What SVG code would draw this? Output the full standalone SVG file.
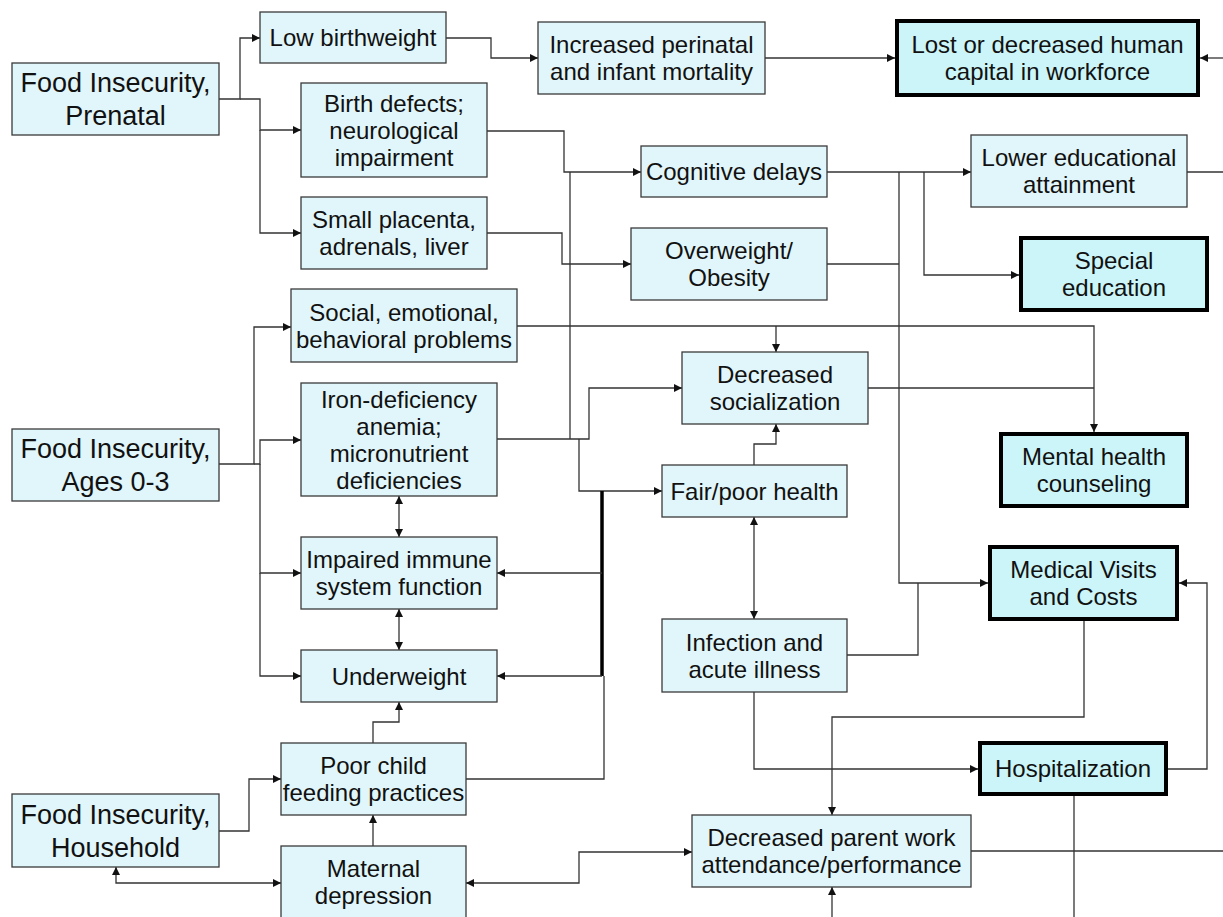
<svg xmlns="http://www.w3.org/2000/svg" width="1223" height="917" viewBox="0 0 1223 917">
<style>
.b{fill:#e1f6fa;stroke:#3a3a3a;stroke-width:1.3}
.k{fill:#ccf5f9;stroke:#000;stroke-width:4}
text{font-family:"Liberation Sans",Arial,sans-serif;font-size:24px;fill:#111;text-anchor:middle}
.f{font-size:27px}
#connectors path{fill:none;stroke:#333;stroke-width:1.3}
</style>
<defs>
<marker id="a" viewBox="0 0 10 10" refX="10" refY="5" markerUnits="userSpaceOnUse" markerWidth="9" markerHeight="8" orient="auto-start-reverse"><path d="M0,0 L10,5 L0,10 z" fill="#111"/></marker>
</defs>
<rect width="1223" height="917" fill="#fff"/>
<g id="connectors">
<path d="M219,99 H240 V38 H260" marker-end="url(#a)"/>
<path d="M240,99 H260 V130 H301" marker-end="url(#a)"/>
<path d="M260,130 V233 H301" marker-end="url(#a)"/>
<path d="M446,38 H491 V58 H538" marker-end="url(#a)"/>
<path d="M765,58 H895" marker-end="url(#a)"/>
<path d="M1223,58 H1200" marker-end="url(#a)"/>
<path d="M487,131 H564 V172 H641" marker-end="url(#a)"/>
<path d="M497,439 H589 V388 H682" marker-end="url(#a)"/>
<path d="M570,439 V172"/>
<path d="M579,439 V491 H662" marker-end="url(#a)"/>
<path d="M487,233 H562 V264 H631" marker-end="url(#a)"/>
<path d="M827,172 H971" marker-end="url(#a)"/>
<path d="M924,172 V275 H1019" marker-end="url(#a)"/>
<path d="M899,172 V583 H988" marker-end="url(#a)"/>
<path d="M827,264 H899"/>
<path d="M847,655 H918 V583"/>
<path d="M1187,172 H1223"/>
<path d="M517,326 H1094 V432" marker-end="url(#a)"/>
<path d="M776,326 V352" marker-end="url(#a)"/>
<path d="M868,388 H1094"/>
<path d="M754,465 V444 H776 V424" marker-end="url(#a)"/>
<path d="M754,517 V619" marker-start="url(#a)" marker-end="url(#a)"/>
<path d="M602,491 V676" style="stroke-width:3.5;stroke:#000"/>
<path d="M602,573 H497" marker-end="url(#a)"/>
<path d="M602,676 H497" marker-end="url(#a)"/>
<path d="M604,676 V779 H466"/>
<path d="M219,464 H254 V327 H291" marker-end="url(#a)"/>
<path d="M254,464 H260 V440 H301" marker-end="url(#a)"/>
<path d="M260,464 V573 H301" marker-end="url(#a)"/>
<path d="M260,573 V676 H301" marker-end="url(#a)"/>
<path d="M399,496 V537" marker-start="url(#a)" marker-end="url(#a)"/>
<path d="M399,609 V650" marker-start="url(#a)" marker-end="url(#a)"/>
<path d="M373,743 V722 H399 V702" marker-end="url(#a)"/>
<path d="M373,846 V815" marker-end="url(#a)"/>
<path d="M219,831 H249 V779 H281" marker-end="url(#a)"/>
<path d="M116,867 V883 H281" marker-start="url(#a)" marker-end="url(#a)"/>
<path d="M466,883 H579 V852 H692" marker-start="url(#a)" marker-end="url(#a)"/>
<path d="M1084,621 V717 H832 V815" marker-end="url(#a)"/>
<path d="M754,692 V769 H978" marker-end="url(#a)"/>
<path d="M1168,769 H1207 V583 H1179" marker-end="url(#a)"/>
<path d="M1074,796 V917"/>
<path d="M971,851 H1223"/>
<path d="M832,917 V887" marker-end="url(#a)"/>
</g>
<g id="n1"><rect class="b" x="12" y="63" width="207" height="72"/><text class="f" x="115.5" y="92">Food Insecurity,</text><text class="f" x="115.5" y="125">Prenatal</text></g>
<g id="n2"><rect class="b" x="260" y="12" width="186" height="51"/><text x="353" y="46">Low birthweight</text></g>
<g id="n3"><rect class="b" x="301" y="83" width="186" height="94"/><text x="394" y="111.5">Birth defects;</text><text x="394" y="138.5">neurological</text><text x="394" y="165.5">impairment</text></g>
<g id="n4"><rect class="b" x="301" y="197" width="186" height="72"/><text x="394" y="228">Small placenta,</text><text x="394" y="255">adrenals, liver</text></g>
<g id="n5"><rect class="b" x="291" y="289" width="226" height="73"/><text x="404" y="320.5">Social, emotional,</text><text x="404" y="347.5">behavioral problems</text></g>
<g id="n6"><rect class="b" x="301" y="383" width="196" height="113"/><text x="399" y="407.5">Iron-deficiency</text><text x="399" y="434.5">anemia;</text><text x="399" y="461.5">micronutrient</text><text x="399" y="488.5">deficiencies</text></g>
<g id="n7"><rect class="b" x="301" y="537" width="196" height="72"/><text x="399" y="568">Impaired immune</text><text x="399" y="595">system function</text></g>
<g id="n8"><rect class="b" x="301" y="650" width="196" height="52"/><text x="399" y="684.5">Underweight</text></g>
<g id="n9"><rect class="b" x="281" y="743" width="185" height="72"/><text x="373.5" y="774">Poor child</text><text x="373.5" y="801">feeding practices</text></g>
<g id="n10"><rect class="b" x="12" y="794" width="207" height="73"/><text class="f" x="115.5" y="824">Food Insecurity,</text><text class="f" x="115.5" y="857">Household</text></g>
<g id="n11"><rect class="b" x="281" y="846" width="185" height="74"/><text x="373.5" y="877">Maternal</text><text x="373.5" y="904">depression</text></g>
<g id="n12"><rect class="b" x="12" y="429" width="207" height="72"/><text class="f" x="115.5" y="458">Food Insecurity,</text><text class="f" x="115.5" y="491">Ages 0-3</text></g>
<g id="n13"><rect class="b" x="538" y="22" width="227" height="72"/><text x="651.5" y="53">Increased perinatal</text><text x="651.5" y="80">and infant mortality</text></g>
<g id="n14"><rect class="k" x="897" y="21" width="301" height="74"/><text x="1047.5" y="53">Lost or decreased human</text><text x="1047.5" y="80">capital in workforce</text></g>
<g id="n15"><rect class="b" x="641" y="146" width="186" height="51"/><text x="734" y="180">Cognitive delays</text></g>
<g id="n16"><rect class="b" x="631" y="228" width="196" height="72"/><text x="729" y="259">Overweight/</text><text x="729" y="286">Obesity</text></g>
<g id="n17"><rect class="b" x="971" y="135" width="216" height="72"/><text x="1079" y="166">Lower educational</text><text x="1079" y="193">attainment</text></g>
<g id="n18"><rect class="k" x="1021" y="238" width="186" height="72"/><text x="1114" y="269">Special</text><text x="1114" y="296">education</text></g>
<g id="n19"><rect class="b" x="682" y="352" width="186" height="72"/><text x="775" y="383">Decreased</text><text x="775" y="410">socialization</text></g>
<g id="n20"><rect class="b" x="662" y="465" width="185" height="52"/><text x="754.5" y="499.5">Fair/poor health</text></g>
<g id="n21"><rect class="k" x="1001" y="434" width="186" height="72"/><text x="1094" y="465">Mental health</text><text x="1094" y="492">counseling</text></g>
<g id="n22"><rect class="k" x="990" y="547" width="187" height="72"/><text x="1083.5" y="578">Medical Visits</text><text x="1083.5" y="605">and Costs</text></g>
<g id="n23"><rect class="b" x="662" y="619" width="185" height="73"/><text x="754.5" y="650.5">Infection and</text><text x="754.5" y="677.5">acute illness</text></g>
<g id="n24"><rect class="k" x="980" y="743" width="186" height="51"/><text x="1073" y="777">Hospitalization</text></g>
<g id="n25"><rect class="b" x="692" y="815" width="279" height="72"/><text x="831.5" y="846">Decreased parent work</text><text x="831.5" y="873">attendance/performance</text></g>
</svg>
